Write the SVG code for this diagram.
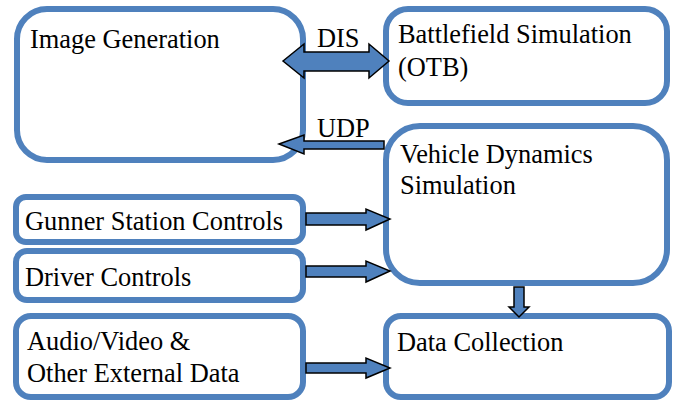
<svg xmlns="http://www.w3.org/2000/svg" width="678" height="402" viewBox="0 0 678 402">
  <style>
    .box { fill: #ffffff; stroke: #4F81BD; stroke-width: 6; }
    .arrow { fill: #4F81BD; stroke: #000000; stroke-width: 1.5; stroke-linejoin: miter; }
    .label { font-family: "Liberation Serif", "DejaVu Serif", serif; font-size: 26.4px; fill: #000000; }
  </style>
  <rect width="678" height="402" fill="#ffffff"/>

  <g id="image-generation">
    <rect class="box" x="17" y="9" width="286" height="151" rx="30" ry="30"/>
    <text class="label" x="30" y="48">Image Generation</text>
  </g>

  <g id="battlefield-simulation">
    <rect class="box" x="386" y="9" width="281" height="94" rx="22" ry="22"/>
    <text class="label" x="398" y="43">Battlefield Simulation</text>
    <text class="label" x="398" y="76">(OTB)</text>
  </g>

  <g id="vehicle-dynamics">
    <rect class="box" x="386" y="126" width="281" height="157" rx="34" ry="34"/>
    <text class="label" x="400" y="163">Vehicle Dynamics</text>
    <text class="label" x="400" y="194">Simulation</text>
  </g>

  <g id="gunner-controls">
    <rect class="box" x="16" y="197" width="287" height="45" rx="10" ry="10"/>
    <text class="label" x="25" y="230">Gunner Station Controls</text>
  </g>

  <g id="driver-controls">
    <rect class="box" x="16" y="251" width="287" height="49" rx="11" ry="11"/>
    <text class="label" x="25" y="286">Driver Controls</text>
  </g>

  <g id="external-data">
    <rect class="box" x="16" y="316" width="287" height="81" rx="15" ry="15"/>
    <text class="label" x="27" y="350">Audio/Video &amp;</text>
    <text class="label" x="27" y="382">Other External Data</text>
  </g>

  <g id="data-collection">
    <rect class="box" x="386" y="316" width="283" height="81" rx="15" ry="15"/>
    <text class="label" x="397" y="351">Data Collection</text>
  </g>

  <!-- connectors, drawn over the box borders -->
  <g id="connectors">
    <!-- DIS: two-way link between image generation and OTB -->
    <polygon class="arrow" points="283,61 304,44 304,52 369,52 369,44 389,61 369,78 369,71 304,71 304,78"/>
    <text class="label" x="317" y="47">DIS</text>
    <!-- UDP: vehicle dynamics to image generation -->
    <polygon class="arrow" points="279,144 304,135 304,141 384,141 384,149 304,149 304,154"/>
    <text class="label" x="317" y="137">UDP</text>
    <!-- gunner controls to vehicle dynamics -->
    <polygon class="arrow" points="306,213 366,213 366,209 390,219 366,230 366,225 306,225"/>
    <!-- driver controls to vehicle dynamics -->
    <polygon class="arrow" points="306,266 366,266 366,261 390,271 366,282 366,277 306,277"/>
    <!-- external data to data collection -->
    <polygon class="arrow" points="306,363 366,363 366,358 390,368 366,378 366,373 306,373"/>
    <!-- vehicle dynamics to data collection -->
    <polygon class="arrow" points="514,287 524,287 524,307 529,307 519,317 509,307 514,307"/>
  </g>
</svg>
